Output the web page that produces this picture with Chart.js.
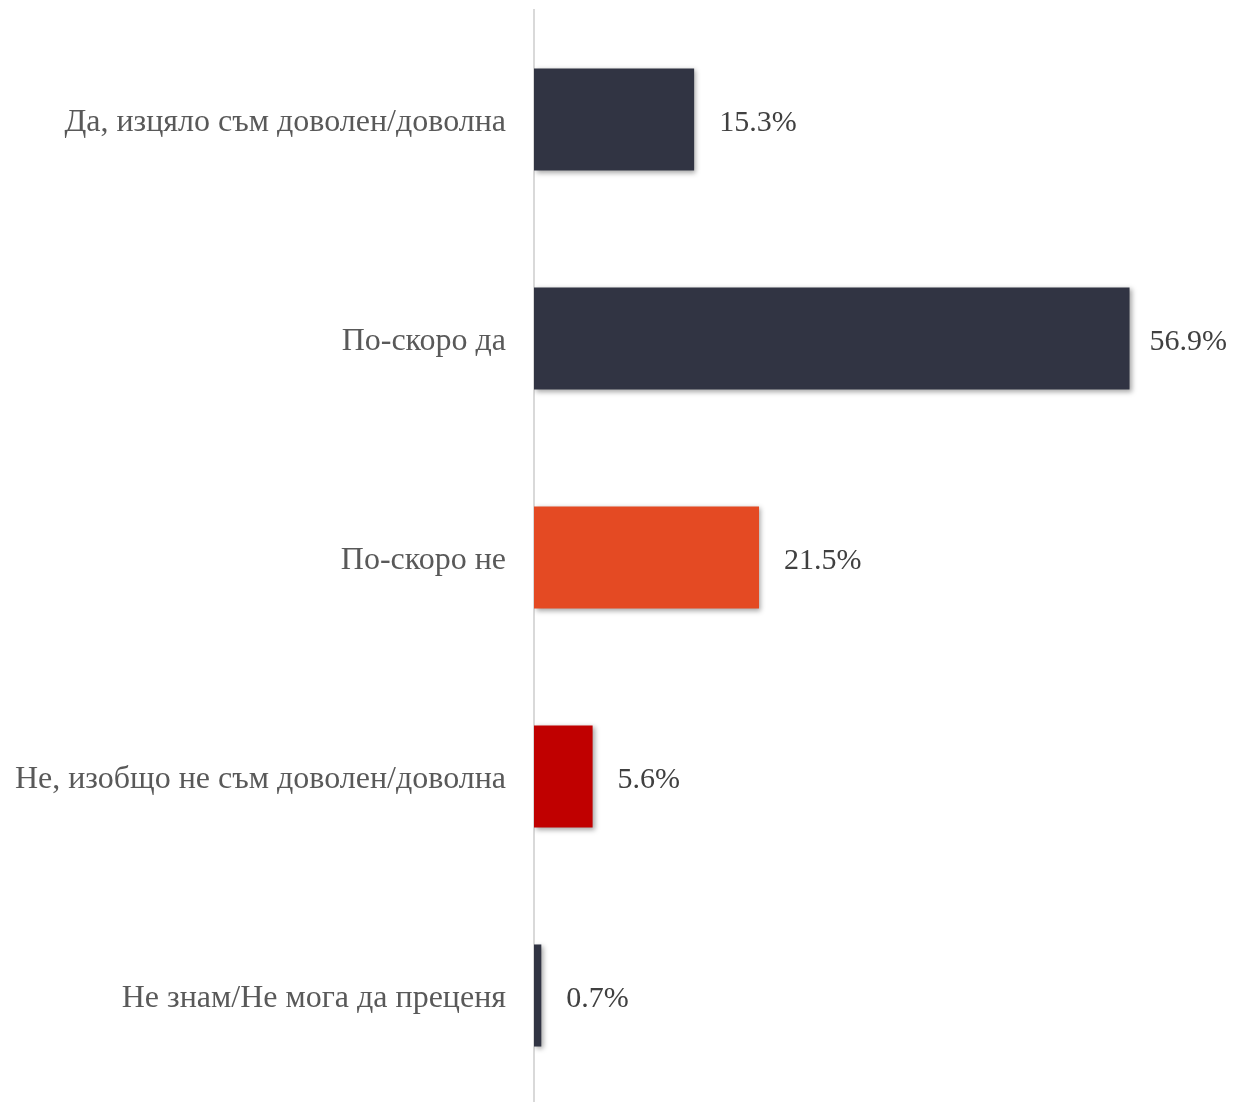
<!DOCTYPE html>
<html>
<head>
<meta charset="utf-8">
<script src="https://cdn.jsdelivr.net/npm/chart.js@4"></script>
<style>
  html, body { margin: 0; padding: 0; background: #fff; overflow: hidden; }
  #wrap { position: relative; width: 1233px; height: 1105px; }
</style>
</head>
<body>
<div id="wrap"><canvas id="grafica"></canvas></div>
<script>
// --- datos ---
const categorias = [
    "Да, изцяло съм доволен/доволна",
    "По-скоро да",
    "По-скоро не",
    "Не, изобщо не съм доволен/доволна",
    "Не знам/Не мога да преценя"
];
const valores = [15.3, 56.9, 21.5, 5.6, 0.7];
const colores = ["#313443", "#313443", "#E44A23", "#C00000", "#313443"];

const fuente = "'Liberation Serif', 'Times New Roman', serif";

// sombra de las barras
const sombra = {
    id: 'sombra',
    beforeDatasetsDraw(chart) {
        const ctx = chart.ctx;
        ctx.save();
        ctx.shadowColor = 'rgba(0,0,0,0.35)';
        ctx.shadowBlur = 5;
        ctx.shadowOffsetX = 2;
        ctx.shadowOffsetY = 2;
    },
    afterDatasetsDraw(chart) {
        chart.ctx.restore();
    }
};

// etiquetas de valor a la derecha de cada barra
const etiquetas = {
    id: 'etiquetas',
    afterDraw(chart) {
        const ctx = chart.ctx;
        const meta = chart.getDatasetMeta(0);
        ctx.save();
        ctx.font = '30px ' + fuente;
        ctx.fillStyle = '#404040';
        ctx.textAlign = 'left';
        ctx.textBaseline = 'middle';
        meta.data.forEach((bar, i) => {
            const txt = valores[i].toFixed(1) + '%';
            const w = ctx.measureText(txt).width;
            const x = Math.min(bar.x + 25, chart.width - w - 6);
            ctx.fillText(txt, x, bar.y + 4);
        });
        ctx.restore();
    }
};

new Chart(document.getElementById('grafica'), {
    type: 'bar',
    data: {
        labels: categorias,
        datasets: [{
            label: 'Отговори',
            data: valores,
            backgroundColor: colores,
            borderWidth: 0,
            categoryPercentage: 1,
            barPercentage: 0.466
        }]
    },
    options: {
        indexAxis: 'y',
        responsive: true,
        maintainAspectRatio: false,
        animation: false,
        layout: { padding: { top: 10, right: 71, left: 0, bottom: 0 } },
        plugins: {
            legend: { display: false },
            tooltip: { enabled: false }
        },
        scales: {
            x: {
                min: 0,
                max: 60,
                display: false
            },
            y: {
                // ancho fijo del eje y sin relleno arriba/abajo
                afterFit: (scale) => {
                    scale.width = 534;
                    scale.paddingTop = 0;
                    scale.paddingBottom = 0;
                },
                grid: { display: false },
                border: { display: true, color: '#d9d9d9', width: 2 },
                ticks: {
                    color: '#595959',
                    padding: 20,
                    labelOffset: 3,
                    font: { family: fuente, size: 32 }
                }
            }
        }
    },
    plugins: [sombra, etiquetas]
});
</script>
</body>
</html>
